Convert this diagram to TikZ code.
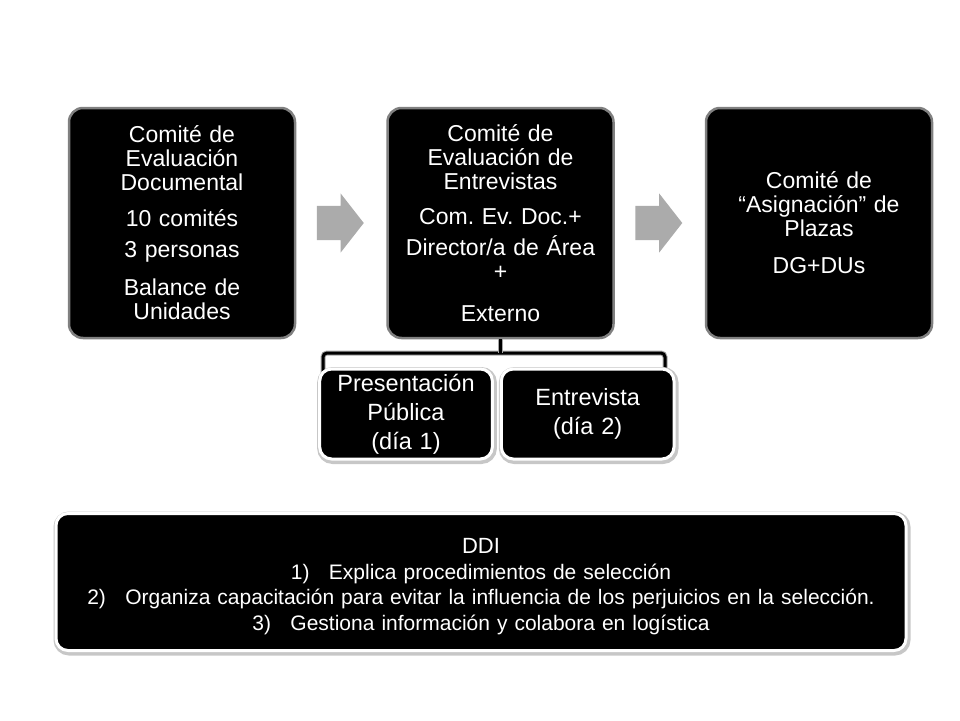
\documentclass[tikz,border=0pt]{standalone}
\usepackage{fontspec}
\setmainfont{Liberation Sans}
\usetikzlibrary{positioning,shapes.arrows,calc}
\frenchspacing

\begin{document}
\begin{tikzpicture}[x=1pt,y=-1pt,
        bigbox/.style={rectangle, rounded corners=14pt, draw=black!50, line width=2.5pt, fill=black, text=white, minimum width=226pt, minimum height=230pt, text width=212pt, align=center, font=\fontsize{23}{24}\selectfont},
        smallbox/.style={rectangle, rounded corners=12pt, draw=white, line width=3pt, fill=black, text=white, preaction={draw=black!22, line width=7pt, transform canvas={xshift=1pt,yshift=-1.5pt}}, minimum width=170pt, minimum height=90pt, text width=166pt, align=center, font=\fontsize{23.5}{29}\selectfont},
        widebox/.style={smallbox, minimum width=850pt, minimum height=137pt, text width=840pt, font=\fontsize{21}{25.5}\selectfont},
        arrowshape/.style={single arrow, fill=black!33, draw=none, inner xsep=0pt, inner ysep=17pt, outer sep=0pt, minimum height=47pt, single arrow head extend=12.5pt, single arrow tip angle=104, anchor=west},
        bracket/.style={draw=black, line width=3pt, rounded corners=4pt, preaction={draw=black!35, line width=5pt}},
        ]
        \useasboundingbox (0,0) rectangle (960,720);
        %Nodes
        \node[bigbox]   (documental) at (182,223)           {Comité de\\Evaluación\\Documental\\[12pt]10 comités\\[7pt]3 personas\\[14pt]Balance de\\Unidades};
        \node[bigbox]   (entrevistas) [right=90pt of documental]  {Comité de\\Evaluación de\\Entrevistas\\[11pt]Com. Ev. Doc.+\\[7pt]Director/a de Área\\+\\[18pt]Externo};
        \node[bigbox]   (asignacion)  [right=90pt of entrevistas] {Comité de\\“Asignación” de\\Plazas\\[13pt]DG+DUs};
        
        %Bracket
        \coordinate (brY) at (0,353);
        \coordinate (brM) at (entrevistas.south |- brY);
        \coordinate (brL) at (323,385);
        \coordinate (brR) at (665,382);
        \draw[bracket] (brL) |- (brM) -| (brR);
        \draw[bracket] (entrevistas.south) -- (brM);
        
        \node[smallbox] (presentacion) at (406,414)             {Presentación\\Pública\\(día 1)};
        \node[smallbox] (entrevista)   [right=6pt of presentacion] {Entrevista\\(día 2)};
        
        \node[widebox]  (ddi) at (481,582) {\rule{0pt}{24pt}{\fontsize{22}{25.5}\selectfont DDI}\\
          \makebox[38pt][l]{1)}Explica procedimientos de selección\\
          \makebox[38pt][l]{2)}Organiza capacitación para evitar la influencia de los perjuicios en la selección.\\
          \makebox[38pt][l]{3)}Gestiona información y colabora en logística};
        
        %Arrows
        \node[arrowshape] (arrowA) at ([xshift=20.5pt]documental.east) {};
        \node[arrowshape] (arrowB) at ([xshift=20.5pt]entrevistas.east) {};
\end{tikzpicture}
\end{document}
